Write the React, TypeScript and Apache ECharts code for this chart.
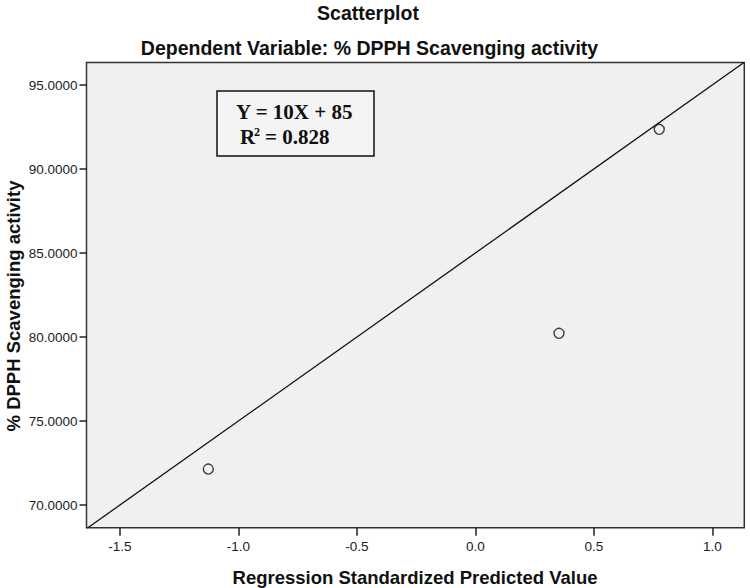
import React, { useEffect, useRef } from "react";
import * as echarts from "echarts";

const xValues = [-1.127, 0.353, 0.776];
const yValues = [72.14, 80.22, 92.36];
const xTicks = [-1.5, -1.0, -0.5, 0.0, 0.5, 1.0];
const yTicks = [70, 75, 80, 85, 90, 95];
const xMin = -1.641;
const xMax = 1.135;
const yMin = 68.65;
const yMax = 96.34;
const slope = 10;
const intercept = 85;
const mainTitle = "Scatterplot";
const subTitle = "Dependent Variable: % DPPH Scavenging activity";
const xName = "Regression Standardized Predicted Value";
const yName = "% DPPH Scavenging activity";

export default function App() {
  const ref = useRef<HTMLDivElement>(null);
  useEffect(() => {
    if (!ref.current) return;
    const chart = echarts.init(ref.current, null, { renderer: "svg" });
    const points = xValues.map((x, i) => [x, yValues[i]]);
    const fit = [
      [xMin, slope * xMin + intercept],
      [xMax, slope * xMax + intercept],
    ];
    const sans = "'Liberation Sans', Arial, sans-serif";
    const serif = "'Liberation Serif', 'Times New Roman', serif";
    const boxText = (text: string, x: number, y: number, size: number) => ({
      type: "text",
      x,
      y,
      z: 11,
      style: {
        text,
        fontFamily: serif,
        fontWeight: "bold",
        fontSize: size,
        fill: "#111",
        textAlign: "left",
        textVerticalAlign: "middle",
      },
    });
    chart.setOption({
      animation: false,
      backgroundColor: "#ffffff",
      grid: {
        left: 86.5,
        right: 5.7,
        top: 62.5,
        bottom: 60.3,
        show: true,
        backgroundColor: "#f0f0f0",
        borderColor: "#333333",
        borderWidth: 1.5,
      },
      xAxis: {
        type: "value",
        min: xMin,
        max: xMax,
        axisLine: { show: false, onZero: false },
        splitLine: { show: false },
        axisTick: {
          show: true,
          length: 8,
          customValues: xTicks,
          lineStyle: { color: "#222", width: 1.5 },
        },
        axisLabel: {
          show: true,
          customValues: xTicks,
          margin: 12,
          color: "#222",
          fontFamily: sans,
          fontSize: 13.5,
          formatter: (v: number) => v.toFixed(1),
        },
      },
      yAxis: {
        type: "value",
        min: yMin,
        max: yMax,
        axisLine: { show: false, onZero: false },
        splitLine: { show: false },
        axisTick: {
          show: true,
          length: 7,
          customValues: yTicks,
          lineStyle: { color: "#222", width: 1.5 },
        },
        axisLabel: {
          show: true,
          customValues: yTicks,
          margin: 9,
          color: "#222",
          fontFamily: sans,
          fontSize: 13.5,
          formatter: (v: number) => v.toFixed(4),
        },
      },
      series: [
        {
          type: "line",
          data: fit,
          symbol: "none",
          lineStyle: { color: "#111", width: 1.3 },
          silent: true,
          z: 2,
        },
        {
          type: "scatter",
          data: points,
          symbol: "circle",
          symbolSize: 10,
          itemStyle: { color: "#f0f0f0", borderColor: "#111", borderWidth: 1.4 },
          z: 3,
        },
      ],
      graphic: [
        {
          type: "text",
          x: 368,
          y: 13,
          style: {
            text: mainTitle,
            fontFamily: sans,
            fontWeight: "bold",
            fontSize: 19.5,
            fill: "#111",
            textAlign: "center",
            textVerticalAlign: "middle",
          },
        },
        {
          type: "text",
          x: 369.5,
          y: 48,
          style: {
            text: subTitle,
            fontFamily: sans,
            fontWeight: "bold",
            fontSize: 19.5,
            fill: "#111",
            textAlign: "center",
            textVerticalAlign: "middle",
          },
        },
        {
          type: "text",
          x: 415,
          y: 577,
          style: {
            text: xName,
            fontFamily: sans,
            fontWeight: "bold",
            fontSize: 18.5,
            fill: "#111",
            textAlign: "center",
            textVerticalAlign: "middle",
          },
        },
        {
          type: "text",
          x: 13,
          y: 306,
          rotation: Math.PI / 2,
          style: {
            text: yName,
            fontFamily: sans,
            fontWeight: "bold",
            fontSize: 18.5,
            fill: "#111",
            textAlign: "center",
            textVerticalAlign: "middle",
          },
        },
        {
          type: "rect",
          shape: { x: 217, y: 91, width: 157, height: 65 },
          style: { fill: "#f4f4f4", stroke: "#111", lineWidth: 1.5 },
          z: 10,
        },
        boxText("Y = 10X + 85", 236, 112, 21),
        boxText("R", 240, 137, 21),
        boxText("2", 254, 132, 12),
        boxText("= 0.828", 265, 137, 21),
      ],
    });
    return () => chart.dispose();
  }, []);
  return (
    <div
      ref={ref}
      style={{ position: "fixed", left: 0, top: 0, width: 750, height: 588 }}
    />
  );
}
